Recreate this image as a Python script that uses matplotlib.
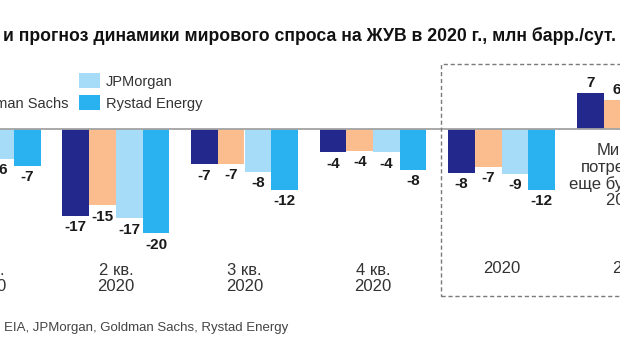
import matplotlib
matplotlib.use("Agg")
import matplotlib.pyplot as plt
from matplotlib.patches import Rectangle
from matplotlib.transforms import blended_transform_factory
import numpy as np

plt.rcParams['font.family'] = ['Liberation Sans', 'DejaVu Sans']

groups = ['1 кв.\n2020', '2 кв.\n2020', '3 кв.\n2020', '4 кв.\n2020', '2020', '2021']
series = ['EIA', 'Goldman Sachs', 'JPMorgan', 'Rystad Energy']
eia = [-5.0, -16.6, -6.7, -4.4, -8.4, 7.0]
goldman = [-5.5, -14.6, -6.6, -4.1, -7.2, 5.7]
jpmorgan = [-5.6, -17.1, -8.1, -4.4, -8.6, 6.0]
rystad = [-7.0, -20.0, -11.6, -7.8, -11.6, 6.5]
colors = ['#23288c', '#fbbd8d', '#a6dcf7', '#29b2ef']

title = 'и прогноз динамики мирового спроса на ЖУВ в 2020 г., млн барр./сут.'
note = 'Мировое\nпотребление\nеще будет ниже\n2019 г.'
source = 'EIA, JPMorgan, Goldman Sachs, Rystad Energy'

W, H = 620, 364
fig = plt.figure(figsize=(W / 100, H / 100), dpi=100)
ax = fig.add_axes([0, 0, 1, 1])
ax.axis('off')

# pixel layout of the cropped original
pitch = 128.6
c0 = -12.7          # centre of first group, px
zero_px, ppu = 129.5, 5.2
ax.set_xlim((0 - c0) / pitch, (W - c0) / pitch)
ax.set_ylim(-(H - zero_px) / ppu, zero_px / ppu)


def fy(py):
    return 1 - py / H


def fx(px):
    return px / W


w = 26.7 / pitch
x = np.arange(len(groups))
for k, (vals, col) in enumerate(zip([eia, goldman, jpmorgan, rystad], colors)):
    pos = x + (k - 1.5) * w
    ax.bar(pos, vals, width=w, color=col, zorder=2, linewidth=0)
    for xp, v in zip(pos, vals):
        if v < 0:
            ax.annotate(f'{v:.0f}', (xp, v), xytext=(0, -3), textcoords='offset points',
                        ha='center', va='top', fontsize=11, fontweight='bold', color='#1a1a1a')
        else:
            ax.annotate(f'{v:.0f}', (xp, v), xytext=(0, 2), textcoords='offset points',
                        ha='center', va='bottom', fontsize=11, fontweight='bold', color='#1a1a1a')

ax.axhline(0, color='#a3a3a3', lw=1.3, zorder=3)

tr = blended_transform_factory(ax.transData, fig.transFigure)
for i, g in enumerate(groups):
    base = 291 if '\n' in g else 273
    ax.text(i, fy(base), g, transform=tr, ha='center', va='baseline',
            fontsize=12, color='#333333', linespacing=1.05)

# dashed frame around yearly totals
fig.patches.append(Rectangle((fx(441), fy(296)), fx(300), fy(64) - fy(296),
                             transform=fig.transFigure, fill=False, ls=(0, (3, 2)),
                             lw=1.0, ec='#7a7a7a', zorder=1))

fig.text(fx(631), fy(143), note, ha='center', va='top', fontsize=12,
         color='#333333', linespacing=1.1)

fig.text(fx(3), fy(41), title, ha='left', va='baseline', fontsize=12.7,
         fontweight='bold', color='#111111')

# legend (left column is cut off in the original)
leg = [(-63, 73, 0), (-63, 95, 1), (79, 73, 2), (79, 95, 3)]
for lx, ly, k in leg:
    fig.patches.append(Rectangle((fx(lx), fy(ly + 15)), fx(21), fy(ly) - fy(ly + 15),
                                 transform=fig.transFigure, color=colors[k], lw=0))
    fig.text(fx(lx + 27), fy(ly + 13), series[k], ha='left', va='baseline',
             fontsize=10.5, color='#333333')

fig.text(fx(4), fy(331), source, ha='left', va='baseline', fontsize=9.5, color='#444444')

fig.savefig('out.png', dpi=100, facecolor='white')
